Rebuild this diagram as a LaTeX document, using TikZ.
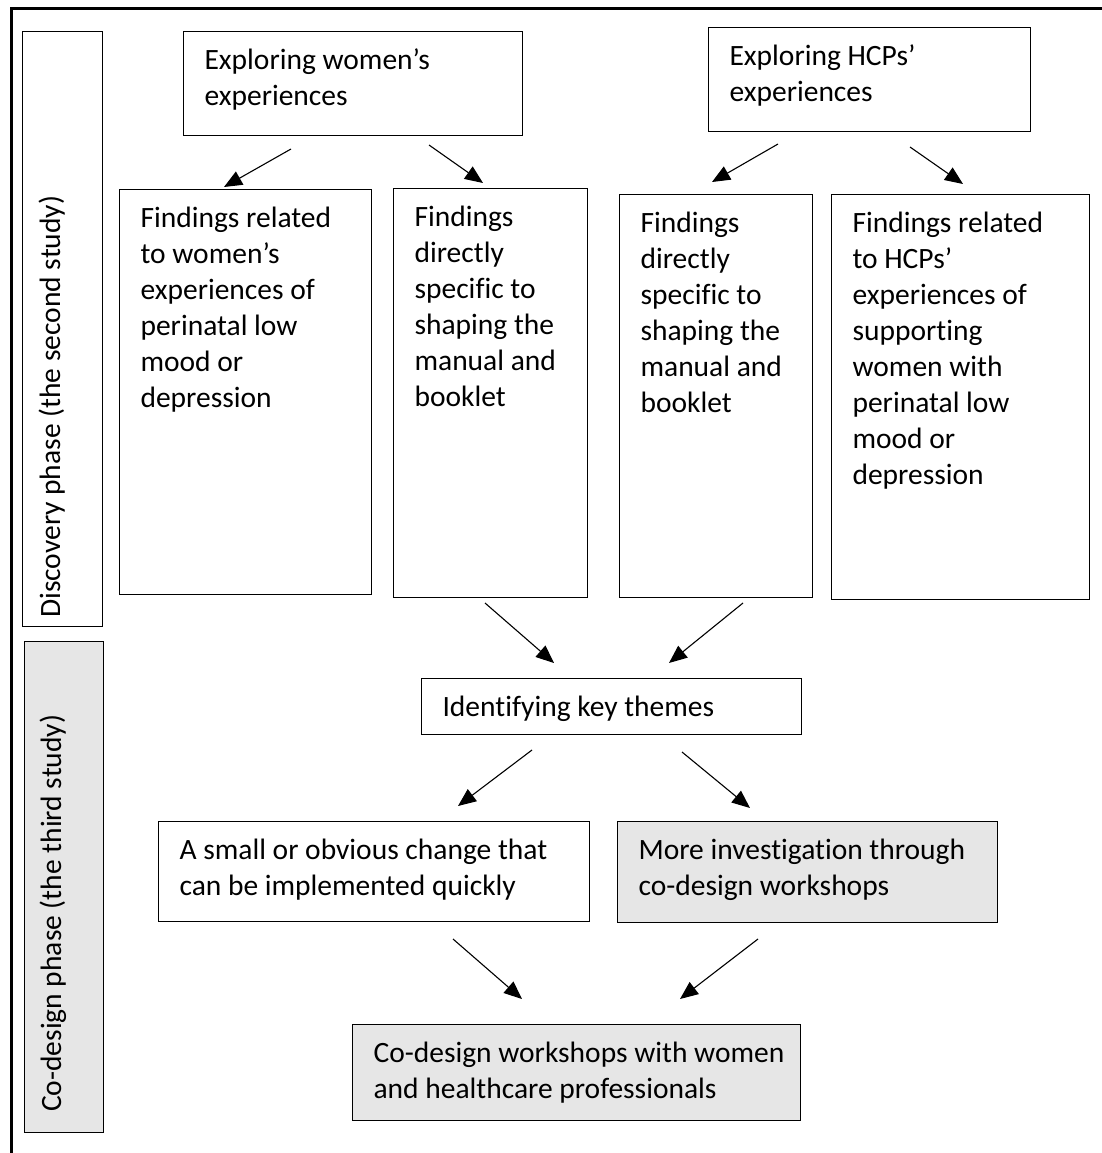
\documentclass[tikz,border=0pt]{standalone}
\usepackage{fontspec}
\setmainfont[Ligatures={NoCommon}]{Carlito}
\usetikzlibrary{arrows.meta}
\definecolor{boxgrey}{RGB}{230,230,230}
\newcommand\bt[3]{\begin{minipage}[t][#2pt][t]{#1pt}\fontsize{29.5}{36}\selectfont\leftskip=21pt\parindent=0pt\rule{0pt}{38pt}#3\end{minipage}}
\begin{document}
\begin{tikzpicture}[x=1pt,y=-1pt,
  bx/.style={draw, line width=1.1pt, inner sep=0pt, anchor=north west},
  greybox/.style={bx, fill=boxgrey},
  lab/.style={inner sep=0pt, font=\fontsize{29.5}{36}\selectfont, rotate=90, anchor=base west},
  arr/.style={line width=1.1pt, -{Triangle[length=18pt,width=15pt]}}]
\useasboundingbox (0,0) rectangle (1101,1153);
% outer frame (top and left edges)
\draw[line width=2.6pt] (11.5,1160) -- (11.5,8.8) -- (1110,8.8);
% phase label boxes
\node[bx, minimum width=80pt, minimum height=595pt] (disc) at (22,31) {};
\node[lab] (disct) at (60,618) {Discovery phase (the second study)};
\node[greybox, minimum width=79pt, minimum height=491pt] (codes) at (24,641) {};
\node[lab] (codet) at (61,1112) {Co-design phase (the third study)};
% boxes
\node[bx] (top1) at (183,31) {\bt{339}{104}{Exploring women’s\\experiences}};
\node[bx] (top2) at (708,27) {\bt{322}{104}{Exploring HCPs’\\experiences}};
\node[bx] (f1) at (119,189) {\bt{252}{405}{Findings related\\to women’s\\experiences of\\perinatal low\\mood or\\depression}};
\node[bx] (f2) at (393,188) {\bt{194}{409}{Findings\\directly\\specific to\\shaping the\\manual and\\booklet}};
\node[bx] (f3) at (619,194) {\bt{193}{403}{Findings\\directly\\specific to\\shaping the\\manual and\\booklet}};
\node[bx] (f4) at (831,194) {\bt{258}{405}{Findings related\\to HCPs’\\experiences of\\supporting\\women with\\perinatal low\\mood or\\depression}};
\node[bx] (key) at (421,678) {\bt{380}{56}{Identifying key themes}};
\node[bx] (small) at (158,821) {\bt{431}{100}{A small or obvious change that\\can be implemented quickly}};
\node[greybox] (more) at (617,821) {\bt{380}{101}{More investigation through\\co-design workshops}};
\node[greybox] (final) at (352,1024) {\bt{448}{96}{Co-design workshops with women\\and healthcare professionals}};
% arrow end points
\coordinate (a1s) at (291,149); \coordinate (a1e) at (224,187);
\coordinate (a2s) at (429,145); \coordinate (a2e) at (483,183);
\coordinate (a3s) at (778,144); \coordinate (a3e) at (712,182);
\coordinate (a4s) at (910,147); \coordinate (a4e) at (963,184);
\coordinate (a5s) at (485,603); \coordinate (a5e) at (554,663);
\coordinate (a6s) at (743,603); \coordinate (a6e) at (669,663);
\coordinate (a7s) at (532,750); \coordinate (a7e) at (458,806);
\coordinate (a8s) at (682,752); \coordinate (a8e) at (750,808);
\coordinate (a9s) at (453,939); \coordinate (a9e) at (522,999);
\coordinate (a10s) at (758,939); \coordinate (a10e) at (680,999);
\foreach \i in {1,...,10} \draw[arr] (a\i s) -- (a\i e);
\end{tikzpicture}
\end{document}
